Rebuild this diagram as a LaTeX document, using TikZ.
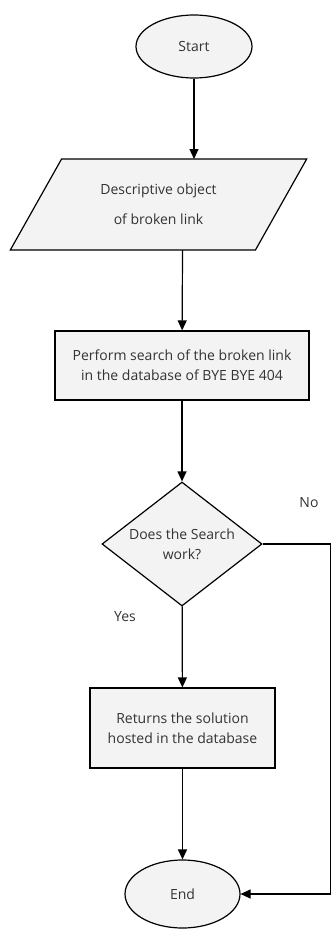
\documentclass[tikz,border=0pt]{standalone}
\usepackage{fontspec}
\setmainfont{Open Sans}
\usepackage{xcolor}
\usetikzlibrary{
    arrows.meta,
    shapes.geometric,
    positioning
}
\definecolor{boxfill}{HTML}{F3F3F3}
\definecolor{ink}{HTML}{333333}
\tikzset{
    flow/.style={draw, line width=1.2pt, fill=boxfill, font=\fontsize{14}{20}\selectfont, text=ink, align=center, inner sep=0pt},
    term/.style={flow, ellipse},
    io/.style={flow, trapezium, trapezium left angle=53, trapezium right angle=127, trapezium stretches=true},
    proc/.style={flow, rectangle},
    test/.style={flow, diamond, aspect=1.29},
    tag/.style={font=\fontsize{14}{20}\selectfont, text=ink},
    link/.style={line width=1.2pt, -{Triangle[length=10pt,width=9pt]}}
}

\begin{document}
\begin{tikzpicture}[x=1pt, y=-1pt]
    \useasboundingbox (0, 0) rectangle (331, 929);
    \node[term, minimum width=116pt, minimum height=63pt] (start) at (194, 46.5) {Start};
    \node[io, minimum width=297pt, minimum height=91pt] (input) at (158.5, 204.5) {Descriptive object\\[10pt] of broken link};
    \node[proc, minimum width=254pt, minimum height=69pt] (search) at (182, 365.5) {Perform search of the broken link\\in the database of BYE BYE 404};
    \node[test, minimum width=160pt, minimum height=124pt] (works) at (182, 544) {Does the Search\\work?};
    \node[proc, minimum width=185pt, minimum height=80pt] (result) at (182.5, 728) {Returns the solution\\hosted in the database};
    \node[term, minimum width=115pt, minimum height=68pt] (end) at (182.5, 894) {End};
    \node[tag] (no) at (309, 503) {No};
    \node[tag] (yes) at (125, 617) {Yes};
    \coordinate (input top) at (194, 159);
    \coordinate (input bottom) at (182.5, 250);
    \coordinate (turn) at (330.5, 544);
    \draw
    (start) edge[link] (input top)
    (input bottom) edge[link] (search)
    (search) edge[link] (works)
    (works) edge[link] (result)
    (result) edge[link] (end);
    \draw[link] (works.east) -- (turn) |- (end.east);
\end{tikzpicture}
\end{document}
